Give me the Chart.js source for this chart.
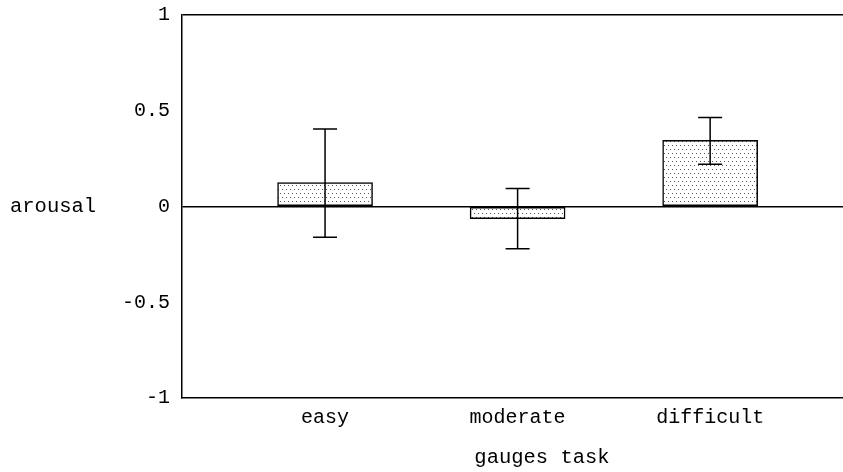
<!DOCTYPE html>
<html>
<head>
<meta charset="utf-8">
<script src="https://cdn.jsdelivr.net/npm/chart.js@4/dist/chart.umd.min.js"></script>
<style>
  html, body { margin: 0; padding: 0; background: #fff; }
  #wrap { width: 843px; height: 472px; }
</style>
</head>
<body>
<div id="wrap"><canvas id="barChart" width="843" height="472"></canvas></div>
<script>
// data
const categories = ['easy', 'moderate', 'difficult'];
const arousalMean = [0.125, -0.063, 0.345];
const errLow = [-0.16, -0.22, 0.22];
const errHigh = [0.405, 0.094, 0.465];
const yTicks = [-1, -0.5, 0, 0.5, 1];

const FONT = "'Liberation Mono', 'Courier New', monospace";

function makeDots() {
  var c = document.createElement('canvas');
  c.width = 4; c.height = 8;
  var g = c.getContext('2d');
  g.fillStyle = '#fff';
  g.fillRect(0, 0, 4, 8);
  g.fillStyle = '#555';
  g.fillRect(0, 1, 1, 1);
  g.fillRect(2, 5, 1, 1);
  return g.createPattern(c, 'repeat');
}

const points = [];
for (var i = 0; i < categories.length; i++) {
  points.push({ x: i + 1, y: arousalMean[i] });
}

const errorBars = {
  id: 'errorBars',
  afterDatasetsDraw(chart) {
    var ctx = chart.ctx;
    var xs = chart.scales.x, ys = chart.scales.y;
    ctx.save();
    ctx.strokeStyle = '#000';
    ctx.lineWidth = 1.5;
    for (var i = 0; i < categories.length; i++) {
      var x = xs.getPixelForValue(i + 1);
      var lo = ys.getPixelForValue(errLow[i]);
      var hi = ys.getPixelForValue(errHigh[i]);
      ctx.beginPath();
      ctx.moveTo(x, lo); ctx.lineTo(x, hi);
      ctx.moveTo(x - 12, lo); ctx.lineTo(x + 12, lo);
      ctx.moveTo(x - 12, hi); ctx.lineTo(x + 12, hi);
      ctx.stroke();
    }
    ctx.restore();
  },
  afterDraw(chart) {
    var ctx = chart.ctx;
    ctx.save();
    ctx.fillStyle = '#000';
    ctx.font = '20.5px ' + FONT;
    ctx.textBaseline = 'middle';
    ctx.textAlign = 'left';
    ctx.fillText('arousal', 10, chart.scales.y.getPixelForValue(0));
    ctx.textAlign = 'center';
    ctx.fillText('gauges task', 542, 458);
    ctx.restore();
  }
};

new Chart(document.getElementById('barChart').getContext('2d'), {
  type: 'bar',
  data: {
    datasets: [{
      data: points,
      backgroundColor: makeDots(),
      borderColor: '#000',
      borderWidth: 1.5,
      borderSkipped: false,
      barThickness: 95
    }]
  },
  options: {
    responsive: false,
    animation: false,
    layout: { padding: { top: 15, left: 0, right: 0, bottom: 0 } },
    plugins: { legend: { display: false }, tooltip: { enabled: false } },
    scales: {
      x: {
        type: 'linear',
        offset: false,
        min: 0.257,
        max: 3.69,
        afterBuildTicks: function (s) {
          s.ticks = categories.map(function (c, i) { return { value: i + 1 }; });
        },
        afterFit: function (s) { s.height = 74; s.paddingLeft = 0; s.paddingRight = 0; },
        ticks: {
          autoSkip: false,
          maxRotation: 0,
          padding: 8,
          color: '#000',
          font: { family: FONT, size: 20 },
          callback: function (v) { return categories[v - 1]; }
        },
        grid: { display: false, drawTicks: false },
        border: { display: true, color: '#000', width: 1.5 }
      },
      y: {
        min: -1,
        max: 1,
        afterBuildTicks: function (s) {
          s.ticks = yTicks.map(function (v) { return { value: v }; });
        },
        afterFit: function (s) { s.width = 182; s.paddingTop = 0; s.paddingBottom = 0; },
        ticks: {
          padding: 12,
          color: '#000',
          font: { family: FONT, size: 20 },
          callback: function (v) { return String(v); }
        },
        grid: {
          drawTicks: false,
          lineWidth: 1.5,
          color: function (c) {
            return (c.tick && (c.tick.value === 0 || c.tick.value === 1)) ? '#000' : 'rgba(0,0,0,0)';
          }
        },
        border: { display: true, color: '#000', width: 1.5 }
      }
    }
  },
  plugins: [errorBars]
});
</script>
</body>
</html>
